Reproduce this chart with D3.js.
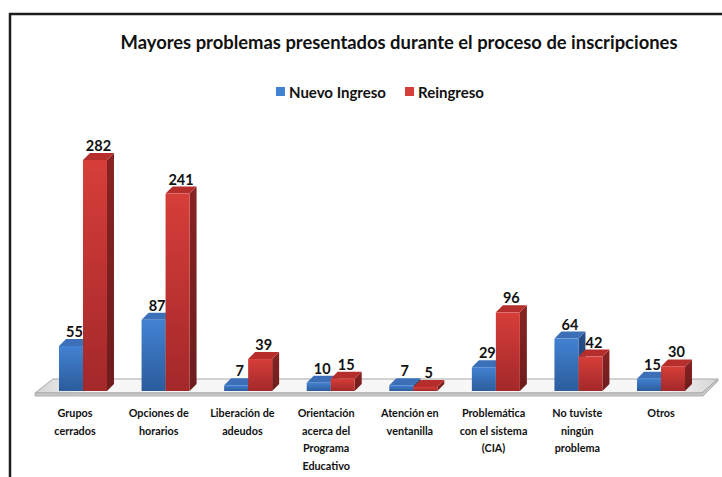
<!DOCTYPE html>
<html>
<head>
<meta charset="utf-8">
<script src="https://cdn.jsdelivr.net/npm/d3@7"></script>
<style>
  html, body { margin: 0; padding: 0; background: #ffffff; }
  svg { display: block; }
  text { font-family: Lato, "Open Sans", "DejaVu Sans", sans-serif; fill: #111; }
</style>
</head>
<body>
<svg id="chart" width="722" height="477"></svg>
<script>
// Categories (one array entry per label line)
const categories = [
  ["Grupos", "cerrados"],
  ["Opciones de", "horarios"],
  ["Liberación de", "adeudos"],
  ["Orientación", "acerca del", "Programa", "Educativo"],
  ["Atención en", "ventanilla"],
  ["Problemática", "con el sistema", "(CIA)"],
  ["No tuviste", "ningún", "problema"],
  ["Otros"]
];
const nuevoIngreso = [55, 87, 7, 10, 7, 29, 64, 15];
const reingreso = [282, 241, 39, 15, 5, 96, 42, 30];
const seriesNames = ["Nuevo Ingreso", "Reingreso"];
const titleText = "Mayores problemas presentados durante el proceso de inscripciones";

const series = [
  { name: seriesNames[0], values: nuevoIngreso, key: "blue" },
  { name: seriesNames[1], values: reingreso, key: "red" }
];

const palette = {
  blue: { top: "#3b70b9", light: "#4282d2", dark: "#2b5c9c", side: "#21467a" },
  red:  { top: "#b62e2b", light: "#d63e39", dark: "#a3282a", side: "#7a1f1f" }
};

const svg = d3.select("#chart");
const defs = svg.append("defs");

Object.entries(palette).forEach(([k, c]) => {
  const g = defs.append("linearGradient").attr("id", "front-" + k)
    .attr("x1", 0).attr("y1", 0).attr("x2", 0).attr("y2", 1);
  g.append("stop").attr("offset", "0%").attr("stop-color", c.light);
  g.append("stop").attr("offset", "100%").attr("stop-color", c.dark);
  const s = defs.append("linearGradient").attr("id", "side-" + k)
    .attr("x1", 0).attr("y1", 0).attr("x2", 0).attr("y2", 1);
  s.append("stop").attr("offset", "0%").attr("stop-color", d3.color(c.side).brighter(0.3));
  s.append("stop").attr("offset", "100%").attr("stop-color", d3.color(c.side).darker(0.3));
});

const floorGrad = defs.append("linearGradient").attr("id", "floor")
  .attr("x1", 0).attr("y1", 0).attr("x2", 1).attr("y2", 0);
floorGrad.append("stop").attr("offset", "0%").attr("stop-color", "#d4d4d4");
floorGrad.append("stop").attr("offset", "8%").attr("stop-color", "#f7f7f7");
floorGrad.append("stop").attr("offset", "92%").attr("stop-color", "#f7f7f7");
floorGrad.append("stop").attr("offset", "100%").attr("stop-color", "#d4d4d4");

// Frame
svg.append("path")
  .attr("d", "M10,477 L10,14 L722,14")
  .attr("fill", "none").attr("stroke", "#1c1c1c").attr("stroke-width", 2.5);

// Title
svg.append("text")
  .attr("x", 399).attr("y", 49)
  .attr("text-anchor", "middle")
  .style("font-size", "18.4px").style("font-weight", 700)
  .text(titleText);

// Legend
const legend = svg.append("g");
const legendItems = [
  { name: seriesNames[0], key: "blue", x: 276 },
  { name: seriesNames[1], key: "red", x: 405 }
];
legendItems.forEach(it => {
  legend.append("rect").attr("x", it.x).attr("y", 87).attr("width", 9).attr("height", 9)
    .attr("fill", palette[it.key].light);
  legend.append("text").attr("x", it.x + 13).attr("y", 97.5)
    .style("font-size", "15px").style("font-weight", 700)
    .text(it.name);
});

// Geometry of the 3D plot
const baseY = 391;          // front bottom edge of bars
const depthX = 7, depthY = -7;

const x = d3.scaleBand()
  .domain(d3.range(categories.length))
  .range([41.7, 702.3])
  .padding(0);

const barW = 24;
const xs = d3.scaleBand()
  .domain(seriesNames)
  .range([x.bandwidth() / 2 - barW, x.bandwidth() / 2 + barW]);

const y = d3.scaleLinear().domain([0, 282]).range([baseY, 160]);

const labelX = d3.scalePoint()
  .domain(d3.range(categories.length))
  .range([75, 661]);

// Floor
const floor = svg.append("g");
floor.append("path")
  .attr("d", "M35,393 L53,379 L718,379 L702,393 Z")
  .attr("fill", "url(#floor)").attr("stroke", "#a9a9a9").attr("stroke-width", 1);
floor.append("path")
  .attr("d", "M35,393 L702,393 L718,379 L718,381 L703,396 L35,396 Z")
  .attr("fill", "#c9c9c9").attr("stroke", "#a3a3a3").attr("stroke-width", 0.8);

// Bars
const plot = svg.append("g");
categories.forEach((cat, i) => {
  series.forEach(s => {
    const v = s.values[i];
    const x0 = x(i) + xs(s.name);
    const yt = y(v);
    const c = palette[s.key];
    const g = plot.append("g");
    // side face
    g.append("path")
      .attr("d", `M${x0 + barW},${yt} L${x0 + barW + depthX},${yt + depthY} L${x0 + barW + depthX},${baseY + depthY} L${x0 + barW},${baseY} Z`)
      .attr("fill", "url(#side-" + s.key + ")");
    // top face
    g.append("path")
      .attr("d", `M${x0},${yt} L${x0 + depthX},${yt + depthY} L${x0 + barW + depthX},${yt + depthY} L${x0 + barW},${yt} Z`)
      .attr("fill", c.top);
    // front face
    g.append("rect")
      .attr("x", x0).attr("y", yt)
      .attr("width", barW).attr("height", baseY - yt)
      .attr("fill", "url(#front-" + s.key + ")");
  });
  // value labels
  series.forEach(s => {
    const v = s.values[i];
    const x0 = x(i) + xs(s.name);
    plot.append("text")
      .attr("x", x0 + barW / 2 + depthX / 2)
      .attr("y", y(v) + depthY - 2)
      .attr("text-anchor", "middle")
      .style("font-size", "14.5px").style("font-weight", 700)
      .text(v);
  });
});

// Category labels
const catG = svg.append("g");
categories.forEach((lines, i) => {
  const t = catG.append("text")
    .attr("x", labelX(i)).attr("y", 417)
    .attr("text-anchor", "middle")
    .style("font-size", "10.8px").style("font-weight", 700);
  lines.forEach((ln, j) => {
    t.append("tspan").attr("x", labelX(i)).attr("dy", j === 0 ? 0 : 17.5).text(ln);
  });
});
</script>
</body>
</html>
